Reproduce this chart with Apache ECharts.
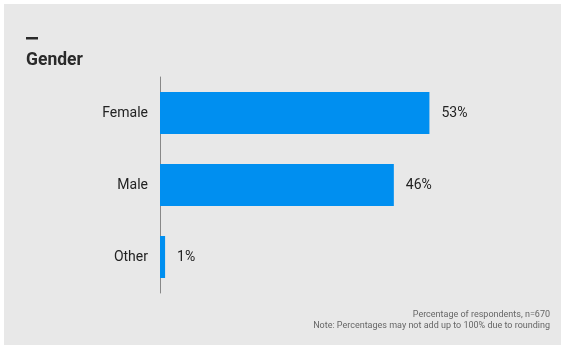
<!DOCTYPE html>
<html><head><meta charset="utf-8">
<script src="https://cdn.jsdelivr.net/npm/echarts@6/dist/echarts.min.js"></script>
<style>
html,body{margin:0;padding:0;background:#fff;}
#c{position:absolute;left:4px;top:4px;width:557px;height:341px;background:#e8e8e8;}
</style></head><body>
<div id="c"></div>
<script>
const categories = ['Female', 'Male', 'Other'];
const values = [53, 46, 1];
const noteLines = ['Percentage of respondents, n=670', 'Note: Percentages may not add up to 100% due to rounding'];

const chart = echarts.init(document.getElementById('c'));
chart.setOption({
  animation: false,
  textStyle: { fontFamily: 'Roboto' },
  graphic: [
    { type: 'rect', shape: { x: 22, y: 33, width: 12, height: 2.5 }, style: { fill: '#2a2a2a' } },
    { type: 'text', x: 22, y: 48, style: { text: 'Gender', font: 'bold 17.5px Roboto', fill: '#2a2a2a' } },
    { type: 'text', x: 546, y: 306, style: { text: noteLines[0], font: '9px Roboto', fill: '#666', align: 'right' } },
    { type: 'text', x: 546, y: 317, style: { text: noteLines[1], font: '9px Roboto', fill: '#666', align: 'right' } }
  ],
  grid: { left: 156, top: 73, bottom: 52, width: 305 },
  xAxis: { type: 'value', min: 0, max: 60, show: false },
  yAxis: {
    type: 'category', data: categories, inverse: true,
    axisLine: { show: true, lineStyle: { color: '#888', width: 1 } },
    axisTick: { show: false },
    axisLabel: { color: '#222', fontSize: 14, margin: 12, fontFamily: 'Roboto', padding: [2, 0, 0, 0] }
  },
  series: [{
    type: 'bar', data: values, barWidth: 42,
    itemStyle: { color: '#008ff0' },
    label: { show: true, position: 'right', distance: 12, formatter: '{c}%', color: '#222', fontSize: 14, fontFamily: 'Roboto', padding: [2, 0, 0, 0] }
  }]
});
</script></body></html>
